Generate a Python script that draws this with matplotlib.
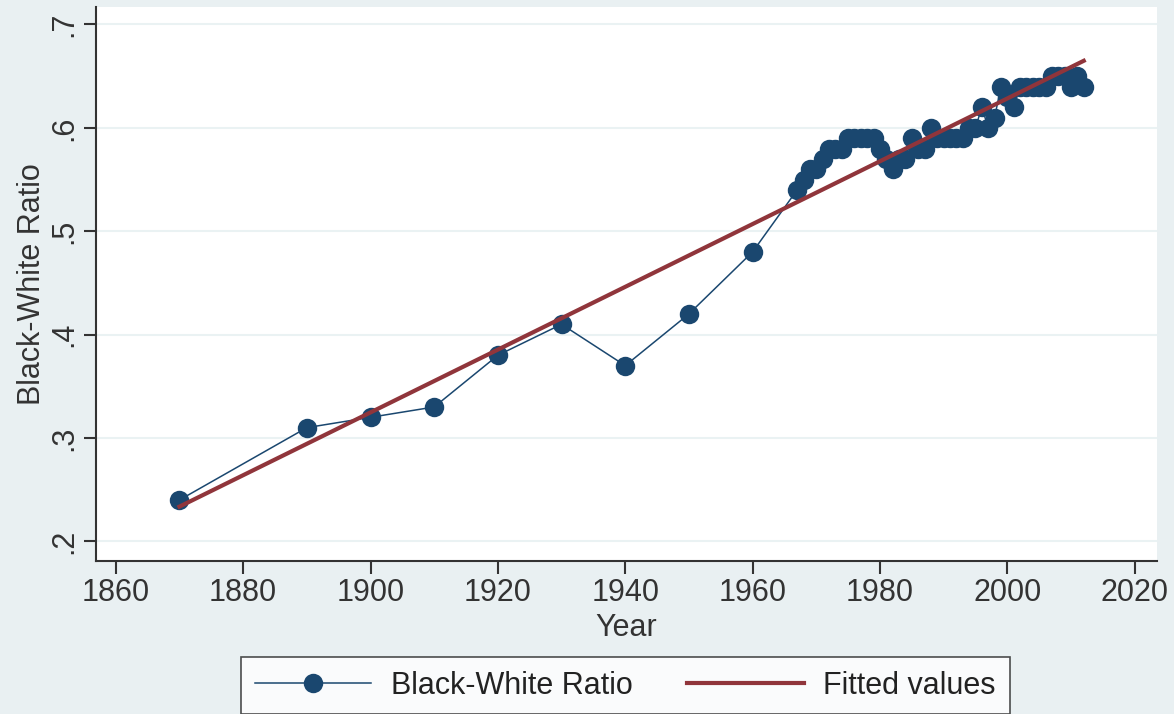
import matplotlib.pyplot as plt
import numpy as np

plt.rcParams['font.family'] = ['Liberation Sans', 'DejaVu Sans']

# Census years, then annual observations from 1967
years = [1870, 1890, 1900, 1910, 1920, 1930, 1940, 1950, 1960,
         1967, 1968, 1969, 1970, 1971, 1972, 1973, 1974, 1975, 1976,
         1977, 1978, 1979, 1980, 1981, 1982, 1983, 1984, 1985, 1986,
         1987, 1988, 1989, 1990, 1991, 1992, 1993, 1994, 1995, 1996,
         1997, 1998, 1999, 2000, 2001, 2002, 2003, 2004, 2005, 2006,
         2007, 2008, 2009, 2010, 2011, 2012]
ratio = [0.24, 0.31, 0.32, 0.33, 0.38, 0.41, 0.37, 0.42, 0.48,
         0.54, 0.55, 0.56, 0.56, 0.57, 0.58, 0.58, 0.58, 0.59, 0.59,
         0.59, 0.59, 0.59, 0.58, 0.57, 0.56, 0.57, 0.57, 0.59, 0.58,
         0.58, 0.60, 0.59, 0.59, 0.59, 0.59, 0.59, 0.60, 0.60, 0.62,
         0.60, 0.61, 0.64, 0.63, 0.62, 0.64, 0.64, 0.64, 0.64, 0.64,
         0.65, 0.65, 0.65, 0.64, 0.65, 0.64]

xticks = [1860, 1880, 1900, 1920, 1940, 1960, 1980, 2000, 2020]
yticks = [0.2, 0.3, 0.4, 0.5, 0.6, 0.7]
ytick_labels = ['.2', '.3', '.4', '.5', '.6', '.7']

bg = '#e9f0f2'
navy = '#1a476f'
maroon = '#90353b'

x = np.array(years, dtype=float)
y = np.array(ratio)
slope, intercept = np.polyfit(x, y, 1)
fitted = intercept + slope * x

fig = plt.figure(figsize=(11.74, 7.14), dpi=100)
fig.patch.set_facecolor(bg)
ax = fig.add_axes([0.0818, 0.2143, 0.9037, 0.776])
ax.set_facecolor('white')

for t in yticks:
    ax.axhline(t, color='#eaf2f3', linewidth=1.5, zorder=0)

ax.plot(x, y, color=navy, linewidth=1.1, marker='o', markersize=14,
        markeredgewidth=0, label='Black-White Ratio', zorder=2)
ax.plot(x, fitted, color=maroon, linewidth=3, label='Fitted values',
        zorder=3)

ax.set_xlim(1856.9, 2023.5)
ax.set_ylim(0.181, 0.717)
ax.set_xticks(xticks)
ax.set_yticks(yticks)
ax.set_yticklabels(ytick_labels, rotation=90, va='center')

for side in ['top', 'right']:
    ax.spines[side].set_visible(False)
for side in ['left', 'bottom']:
    ax.spines[side].set_color('#333333')
    ax.spines[side].set_linewidth(1.5)

ax.tick_params(axis='both', direction='out', length=9, width=1.5,
               color='#333333', labelsize=22, labelcolor='#333333', pad=3)
ax.set_xlabel('Year', fontsize=22, color='#333333', labelpad=4)
ax.set_ylabel('Black-White Ratio', fontsize=22, color='#333333', labelpad=2)

leg = fig.legend(loc='upper left', bbox_to_anchor=(0.2053, 0.080),
                 ncol=2, fontsize=22, frameon=True, fancybox=False,
                 handlelength=3.8, columnspacing=1.8, handletextpad=0.65,
                 borderpad=0.45, borderaxespad=0)
leg.get_frame().set_edgecolor('#222222')
leg.get_frame().set_linewidth(1.2)
for txt in leg.get_texts():
    txt.set_color('#222222')

fig.savefig('out.png', dpi=100, facecolor=bg)
